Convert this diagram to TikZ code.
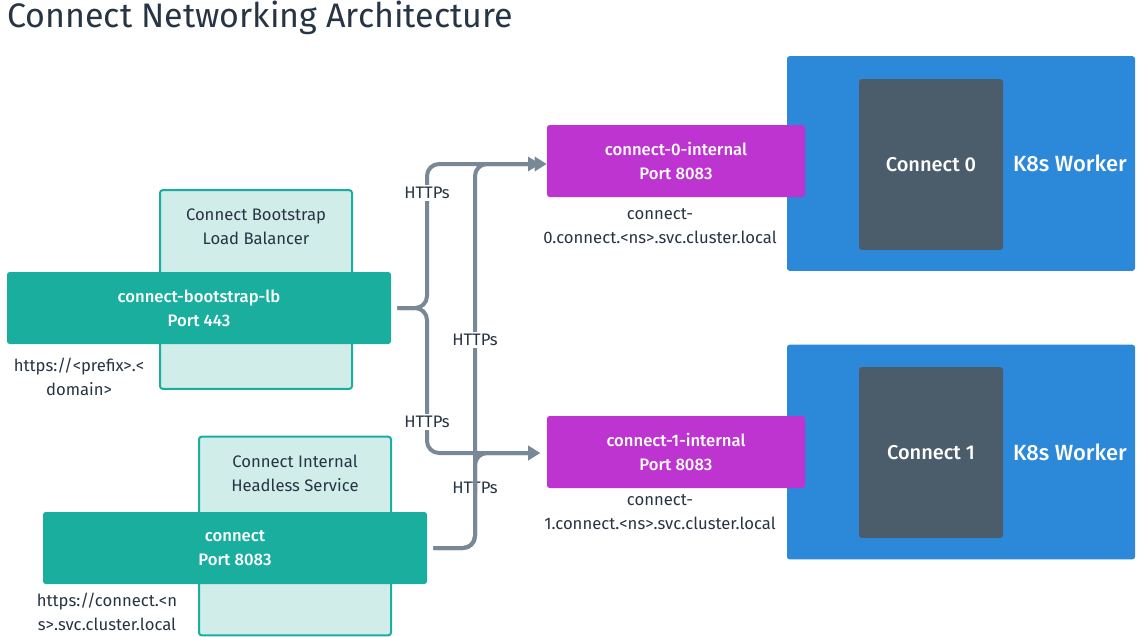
\documentclass[tikz,border=0pt]{standalone}
\usepackage{fontspec}
\setmainfont{Fira Sans}
\newfontfamily\medfont{Fira Sans Medium}
\usetikzlibrary{arrows.meta}

\definecolor{ink}{HTML}{273444}
\definecolor{svcgreen}{HTML}{1AAE9F}
\definecolor{svcpale}{HTML}{D1EDEA}
\definecolor{podpink}{HTML}{BE34D0}
\definecolor{nodeblue}{HTML}{2C88D9}
\definecolor{podslate}{HTML}{4B5C6B}
\definecolor{wire}{HTML}{788896}

\begin{document}
\begin{tikzpicture}[x=0.75pt,y=-0.75pt,
    txt/.style={text=ink,align=center,inner sep=0pt,font=\fontsize{12.5}{18}\selectfont},
    bright/.style={txt,text=white,font=\medfont\fontsize{12.5}{18}\selectfont},
    panel/.style={draw=svcgreen,line width=1.5pt,fill=svcpale,rounded corners=2pt,
                  minimum width=144pt,minimum height=149pt},
    svc/.style={bright,fill=svcgreen,rounded corners=2pt,
                minimum width=288pt,minimum height=54pt},
    ingress/.style={bright,fill=podpink,rounded corners=2pt,
                    minimum width=193.5pt,minimum height=54pt},
    worker/.style={fill=nodeblue,rounded corners=2pt,minimum width=261pt,minimum height=161pt},
    pod/.style={bright,fill=podslate,rounded corners=2pt,font=\medfont\fontsize{15}{18}\selectfont,
                minimum width=108pt,minimum height=128pt},
    link/.style={draw=wire,line width=3pt,rounded corners=9pt},
    tip/.style={-{Triangle[length=9pt,width=10.5pt]}},
    tag/.style={txt,fill=white,inner sep=1.5pt}]
  \useasboundingbox (0,0) rectangle (1142,636);

  \node[txt,anchor=base west,font=\fontsize{25.5}{30}\selectfont] (title) at (7,27) {Connect Networking Architecture};

  % load balancer and headless service
  \node[panel] (lbpanel) at (256,289.5) {};
  \node[txt] (lbname) at (256,227) {Connect Bootstrap\\Load Balancer};
  \node[svc] (lb) at (199,308) {connect-bootstrap-lb\\Port 443};
  \node[txt] (lburl) at (79,377) {https://<prefix>.<\\domain>};

  \node[panel] (hlpanel) at (295,536) {};
  \node[txt] (hlname) at (295,473) {Connect Internal\\Headless Service};
  \node[svc] (hl) at (235,548) {connect\\Port 8083};
  \node[txt] (hlurl) at (107,612) {https://connect.<n\\s>.svc.cluster.local};

  % workers
  \node[worker] (w0) at (961,163.5) {};
  \node[pod] (p0) at (931,164.5) {Connect 0};
  \node[bright,font=\medfont\fontsize{16.5}{18}\selectfont] (w0name) at (1070,163) {K8s Worker};
  \node[ingress] (c0) at (676,161) {connect-0-internal\\Port 8083};
  \node[txt] (c0url) at (660,226) {connect-\\0.connect.<ns>.svc.cluster.local};

  \node[worker] (w1) at (961,452) {};
  \node[pod] (p1) at (931,452.5) {Connect 1};
  \node[bright,font=\medfont\fontsize{16.5}{18}\selectfont] (w1name) at (1070,452) {K8s Worker};
  \node[ingress] (c1) at (676,452) {connect-1-internal\\Port 8083};
  \node[txt] (c1url) at (660,512) {connect-\\1.connect.<ns>.svc.cluster.local};

  % HTTPs routes
  \draw[link,tip] ([xshift=4.5pt]lb.east) -- (427,308) -- (427,164) -- ([xshift=-5pt]c0.west |- 0,164);
  \node[tag] (t1) at (427,193) {HTTPs};
  \draw[link,tip] ([xshift=4.5pt]lb.east) -- (427,308) -- (427,453) -- ([xshift=-5pt]c1.west |- 0,453);
  \node[tag] (t3) at (427,422) {HTTPs};
  \draw[link,tip] ([xshift=4.5pt]hl.east) -- (475,548) -- (475,453) -- ([xshift=-5pt]c1.west |- 0,453);
  \node[txt] (t4) at (475,488) {HTTPs};
  \draw[link,tip] ([xshift=4.5pt]hl.east) -- (475,548) -- (475,164) -- (c0.west |- 0,164);
  \node[tag] (t2) at (475,340) {HTTPs};
\end{tikzpicture}
\end{document}
